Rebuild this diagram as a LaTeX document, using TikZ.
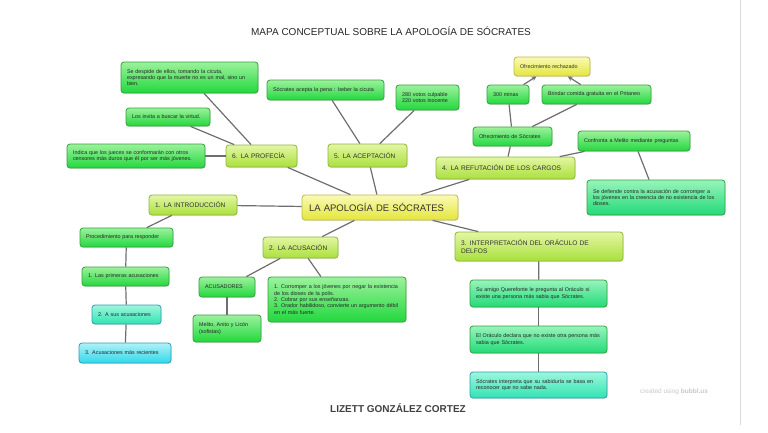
\documentclass[tikz,border=0pt]{standalone}
\usepackage{fontspec}
\setmainfont{Liberation Sans}
\usetikzlibrary{shapes,arrows,positioning,calc,shadows}

\definecolor{greenT}{HTML}{9CF29C}
\definecolor{greenB}{HTML}{22D83E}
\definecolor{greenD}{HTML}{35A03E}
\definecolor{limeT}{HTML}{E4F6A4}
\definecolor{limeB}{HTML}{A9E03C}
\definecolor{limeD}{HTML}{8DB63E}
\definecolor{yelT}{HTML}{FAFAB4}
\definecolor{yelB}{HTML}{E4E63C}
\definecolor{yelD}{HTML}{BFB84A}
\definecolor{tealT}{HTML}{9EF6DC}
\definecolor{tealB}{HTML}{30E4B2}
\definecolor{cyanT}{HTML}{AEF2F8}
\definecolor{cyanB}{HTML}{30D8EA}
\definecolor{cyanD}{HTML}{2C9EB6}
\definecolor{mintT}{HTML}{98F4BC}
\definecolor{mintB}{HTML}{22DA78}
\definecolor{linkC}{HTML}{6E6E6E}

\tikzset{
    box/.style={rectangle,draw=greenD,line width=0.8pt,rounded corners=3pt,
        top color=greenT,bottom color=greenB,align=left,inner xsep=6pt,inner ysep=2pt,
        font=\fontsize{5.4}{6.3}\selectfont,text=black!85,
        drop shadow={opacity=0.22,shadow xshift=0.5pt,shadow yshift=-0.9pt}},
    sz/.style 2 args={text width=#1pt-12pt,minimum height=#2pt},
    cat/.style={box,draw=limeD,top color=limeT,bottom color=limeB,
        font=\fontsize{6.6}{7.6}\selectfont,text=black!80},
    mainbox/.style={box,draw=yelD,top color=yelT,bottom color=yelB,inner xsep=7pt,
        font=\fontsize{9.5}{11}\selectfont,text=black!80},
    link/.style={draw=linkC,line width=1.2pt}
}

\begin{document}
\begin{tikzpicture}[x=1pt,y=-1pt]
    \useasboundingbox (0,0) rectangle (768,432);

    % Title and author
    \node[font=\fontsize{10}{12}\selectfont,text=black!85] (title) at (391,31) {MAPA CONCEPTUAL SOBRE LA APOLOGÍA DE SÓCRATES};
    \node[font=\fontsize{10}{12}\selectfont\bfseries,text=black!75] (author) at (398,408) {LIZETT GONZÁLEZ CORTEZ};
    \node[font=\fontsize{6.5}{8}\selectfont,text=black!22] (mark) at (674,392) {created using \textbf{bubbl.us}};
    \draw[black!15,line width=1pt] (740,0) -- (740,425);

    % Center
    \node[mainbox,sz={154}{25}] (main) at (380,207.5) {LA APOLOGÍA DE SÓCRATES};

    % 6. La profecia
    \node[cat,sz={71}{22}] (prof) at (261.5,156) {6. LA PROFECÍA};
    \node[box,sz={137}{31}] (despide) at (189.5,77.5) {Se despide de ellos, tomando la cicuta,\\expresando que la muerte no es un mal, sino un\\bien.};
    \node[box,sz={84}{18}] (virtud) at (168,117) {Los invita a buscar la virtud.};
    \node[box,sz={138}{24}] (jueces) at (136,156) {Indica que los jueces se conformarán con otros\\censores más duros que él por ser más jóvenes.};
    \draw[link] (despide) -- (prof);
    \draw[link] (virtud) -- (prof);
    \draw[link] (jueces) -- (prof);
    \draw[link] (prof) -- (main);

    % 5. La aceptacion
    \node[cat,sz={79}{23}] (acep) at (367.5,155.5) {5. LA ACEPTACIÓN};
    \node[box,sz={117}{20}] (pena) at (325.5,90) {Sócrates acepta la pena : beber la cicuta};
    \node[box,sz={63}{25}] (votos) at (427.5,97.5) {280 votos culpable\\220 votos inocente};
    \draw[link] (pena) -- (acep);
    \draw[link] (votos) -- (acep);
    \draw[link] (acep) -- (main);

    % 4. La refutacion
    \node[cat,sz={139}{22}] (refut) at (505.5,168) {4. LA REFUTACIÓN DE LOS CARGOS};
    \node[mainbox,sz={76}{19},inner xsep=6pt,font=\fontsize{5.4}{6.3}\selectfont] (rechazo) at (552,66.5) {Ofrecimiento rechazado};
    \node[box,sz={42}{19}] (minas) at (508,94.5) {300 minas};
    \node[box,sz={109}{19}] (comida) at (596.5,94.5) {Brindar comida gratuita en el Pritaneo};
    \node[box,sz={79}{19}] (ofrec) at (512.5,136.5) {Ofrecimiento de Sócrates};
    \node[box,sz={112}{20}] (melpreg) at (634,141) {Confronta a Melito mediante preguntas};
    \node[box,sz={138}{35},top color=mintT,bottom color=mintB] (defiende) at (656,197.5) {Se defiende contra la acusación de corromper a\\los jóvenes en la creencia de no existencia de los\\dioses.};
    \draw[link,->,>=stealth] (minas) -- (rechazo);
    \draw[link,->,>=stealth] (comida) -- (rechazo);
    \draw[link] (minas) -- (ofrec);
    \draw[link] (comida) -- (ofrec);
    \draw[link] (ofrec) -- (refut);
    \draw[link] (melpreg) -- (refut);
    \draw[link] (melpreg) -- (defiende);
    \draw[link] (refut) -- (main);

    % 1. La introduccion
    \node[cat,sz={88}{20}] (intro) at (193,205) {1. LA INTRODUCCIÓN};
    \node[box,sz={93}{19}] (proced) at (126.5,237.5) {Procedimiento para responder};
    \node[box,sz={87}{19}] (primeras) at (125.5,276.5) {1. Las primeras acusaciones};
    \node[box,sz={69}{19},draw=cyanD,top color=tealT,bottom color=tealB] (sus) at (126.5,314.5) {2. A sus acusaciones};
    \node[box,sz={92}{20},draw=cyanD,top color=cyanT,bottom color=cyanB] (recientes) at (125,353) {3. Acusaciones más recientes};
    \draw[link] (intro) -- (main);
    \draw[link] (intro) -- (proced);
    \draw[link] (proced) -- (primeras);
    \draw[link] (primeras) -- (sus);
    \draw[link] (sus) -- (recientes);

    % 2. La acusacion
    \node[cat,sz={75}{21}] (acus) at (300.5,247.5) {2. LA ACUSACIÓN};
    \node[box,sz={56}{20}] (acusadores) at (227,287) {ACUSADORES};
    \node[box,sz={68}{27}] (sofistas) at (227,328.5) {Melito, Anito y Licón\\(sofistas)};
    \node[box,sz={138}{45}] (cargos) at (337,299.5) {1. Corromper a los jóvenes por negar la existencia\\de los dioses de la polis.\\2. Cobrar por sus enseñanzas.\\3. Orador habilidoso, convierte un argumento débil\\en el más fuerte.};
    \draw[link] (main) -- (acus);
    \draw[link] (acus) -- (acusadores);
    \draw[link] (acus) -- (cargos);
    \draw[link] (acusadores) -- (sofistas);

    % 3. Interpretacion del oraculo
    \node[cat,sz={168}{29}] (oraculo) at (539,246.5) {3. INTERPRETACIÓN DEL ORÁCULO DE\\DELFOS};
    \node[box,sz={137}{27},top color=mintT,bottom color=mintB] (amigo) at (538.5,293.5) {Su amigo Querefonte le pregunta al Oráculo si\\existe una persona más sabia que Sócrates.};
    \node[box,sz={137}{27},top color=mintT,bottom color=mintB] (declara) at (538.5,339.5) {El Oráculo declara que no existe otra persona más\\sabia que Sócrates.};
    \node[box,sz={137}{26},draw=cyanD,top color=tealT,bottom color=tealB] (nada) at (538.5,385) {Sócrates interpreta que su sabiduría se basa en\\reconocer que no sabe nada.};
    \draw[link] (main) -- (oraculo);
    \draw[link] (oraculo) -- (amigo);
    \draw[link] (amigo) -- (declara);
    \draw[link] (declara) -- (nada);
\end{tikzpicture}
\end{document}
